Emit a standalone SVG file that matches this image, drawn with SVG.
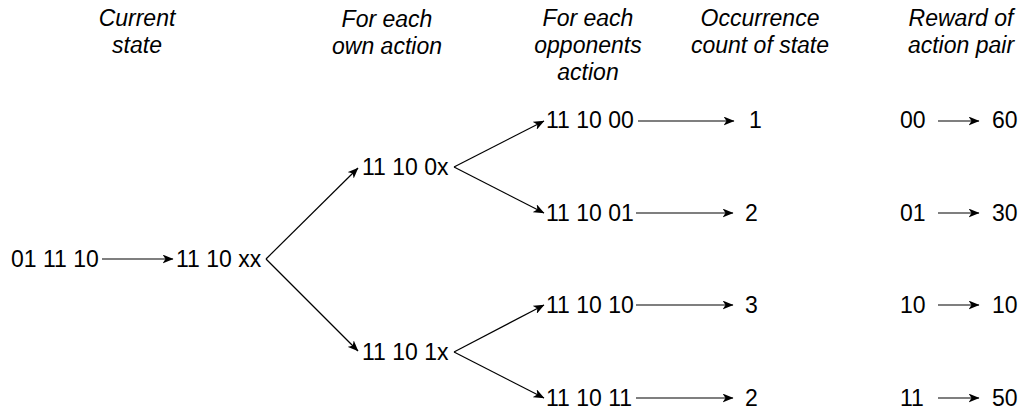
<svg xmlns="http://www.w3.org/2000/svg" width="1023" height="415" viewBox="0 0 1023 415">
  <style>
    text { font-family: "Liberation Sans", Arial, sans-serif; fill: #000; }
    .lbl { font-size: 23px; }
    .hdr { font-size: 23px; font-style: italic; text-anchor: middle; }
    .edge { stroke: #000; stroke-width: 1.2; fill: none; marker-end: url(#arr); }
  </style>
  <defs>
    <marker id="arr" viewBox="0 0 11 9" refX="10.5" refY="4.5" markerWidth="11" markerHeight="9" markerUnits="userSpaceOnUse" orient="auto">
      <path d="M0,0 L11,4.5 L0,9 L3,4.5 z" fill="#000"/>
    </marker>
  </defs>

  <!-- column headers -->
  <g id="headers">
    <text class="hdr" x="137" y="26">Current</text>
    <text class="hdr" x="137" y="53">state</text>
    <text class="hdr" x="387" y="27">For each</text>
    <text class="hdr" x="387" y="54">own action</text>
    <text class="hdr" x="588" y="26">For each</text>
    <text class="hdr" x="588" y="53">opponents</text>
    <text class="hdr" x="588" y="80">action</text>
    <text class="hdr" x="760" y="26">Occurrence</text>
    <text class="hdr" x="760" y="53">count of state</text>
    <text class="hdr" x="961" y="26">Reward of</text>
    <text class="hdr" x="961" y="53">action pair</text>
  </g>

  <!-- state tree -->
  <g id="n-current"><text class="lbl" x="11" y="267">01 11 10</text></g>
  <g id="n-xx"><text class="lbl" x="176" y="267">11 10 xx</text></g>
  <g id="n-0x"><text class="lbl" x="362" y="175">11 10 0x</text></g>
  <g id="n-1x"><text class="lbl" x="362" y="360">11 10 1x</text></g>
  <g id="n-00"><text class="lbl" x="546" y="128">11 10 00</text></g>
  <g id="n-01"><text class="lbl" x="546" y="221">11 10 01</text></g>
  <g id="n-10"><text class="lbl" x="546" y="313">11 10 10</text></g>
  <g id="n-11"><text class="lbl" x="546" y="406">11 10 11</text></g>

  <!-- occurrence counts -->
  <g id="c-00"><text class="lbl" x="749" y="128">1</text></g>
  <g id="c-01"><text class="lbl" x="745" y="221">2</text></g>
  <g id="c-10"><text class="lbl" x="745" y="313">3</text></g>
  <g id="c-11"><text class="lbl" x="745" y="406">2</text></g>

  <!-- rewards -->
  <g id="r-00"><text class="lbl" x="900" y="128">00</text><text class="lbl" x="992" y="128">60</text></g>
  <g id="r-01"><text class="lbl" x="900" y="221">01</text><text class="lbl" x="992" y="221">30</text></g>
  <g id="r-10"><text class="lbl" x="900" y="313">10</text><text class="lbl" x="992" y="313">10</text></g>
  <g id="r-11"><text class="lbl" x="900" y="406">11</text><text class="lbl" x="992" y="406">50</text></g>

  <g id="connectors">
    <path class="edge" d="M102,259 L173,259"/>
    <path class="edge" d="M266,259 L358,168"/>
    <path class="edge" d="M266,259 L358,351"/>
    <path class="edge" d="M454,167 L544,121"/>
    <path class="edge" d="M454,167 L544,213"/>
    <path class="edge" d="M454,352 L544,305"/>
    <path class="edge" d="M454,352 L544,398"/>
    <path class="edge" d="M638,121 L734,121"/>
    <path class="edge" d="M636,213 L733,213"/>
    <path class="edge" d="M636,305 L733,305"/>
    <path class="edge" d="M636,398 L733,398"/>
    <path class="edge" d="M938,121 L979,121"/>
    <path class="edge" d="M938,213 L979,213"/>
    <path class="edge" d="M938,305 L979,305"/>
    <path class="edge" d="M938,398 L979,398"/>
  </g>
</svg>
